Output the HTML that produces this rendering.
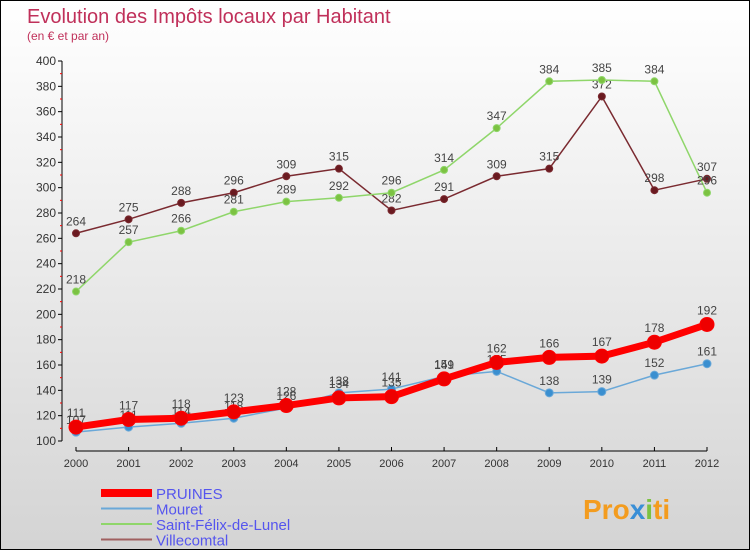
<!DOCTYPE html>
<html><head><meta charset="utf-8"><style>
body{margin:0}
#c{width:750px;height:550px;position:relative;background:linear-gradient(#ffffff,#d4d4d4);font-family:"Liberation Sans","DejaVu Sans",sans-serif;overflow:hidden;box-sizing:border-box;border:1px solid #000}
</style></head><body>
<div id="c">
<svg id="s" width="750" height="550" style="position:absolute;left:0;top:0">
<text x="26" y="22" font-size="20" fill="#c0305a">Evolution des Impôts locaux par Habitant</text>
<text x="26" y="39" font-size="12" fill="#c0305a">(en € et par an)</text>
<text x="582" y="518" font-size="28" font-weight="bold" fill="#f39c1f">Pro<tspan fill="#3a8fd6">x</tspan><tspan fill="#7cc242">i</tspan>ti</text>
</svg>
</div>
<script>
const years=["2000","2001","2002","2003","2004","2005","2006","2007","2008","2009","2010","2011","2012"];
const pruines=[111,117,118,123,128,134,135,149,162,166,167,178,192];
const mouret=[107,111,114,118,126,138,141,151,155,138,139,152,161];
const stfelix=[218,257,266,281,289,292,296,314,347,384,385,384,296];
const villecomtal=[264,275,288,296,309,315,282,291,309,315,372,298,307];
const yTicks=[100,120,140,160,180,200,220,240,260,280,300,320,340,360,380,400];
const NS="http://www.w3.org/2000/svg";
const s=document.getElementById('s');
const X=i=>75+i*(706-75)/12;
const Y=v=>440-(v-100)*(380/300);
function mk(t,a,p){const e=document.createElementNS(NS,t);for(const k in a)e.setAttribute(k,a[k]);(p||s).appendChild(e);return e;}
const ax=mk('g',{});


mk('line',{x1:61,y1:Y(400),x2:61,y2:Y(100),stroke:'#000'},ax);
mk('line',{x1:75,y1:450,x2:706,y2:450,stroke:'#000'},ax);
yTicks.forEach(v=>{mk('line',{x1:57,x2:61,y1:Y(v),y2:Y(v),stroke:'#000'},ax);
 if(v<400)mk('line',{x1:59,x2:61,y1:Y(v+10),y2:Y(v+10),stroke:'#f00'},ax);
 const t=mk('text',{x:55,y:Y(v)+4,'font-size':12,'text-anchor':'end',fill:'#333'},ax);t.textContent=v;});
years.forEach((y,i)=>{mk('line',{x1:X(i),x2:X(i),y1:446,y2:450,stroke:'#000'},ax);
 const t=mk('text',{x:X(i),y:466,'font-size':11,'text-anchor':'middle',fill:'#333'},ax);t.textContent=y;});
function series(name,data,color,w,r,dot,lblDy){
 const g=mk('g',{});
 
 
 mk('polyline',{points:data.map((v,i)=>X(i)+','+Y(v)).join(' '),fill:'none',stroke:color,'stroke-width':w},g);
 data.forEach((v,i)=>{const c=mk('circle',{cx:X(i),cy:Y(v),r:r,fill:dot,stroke:color,'stroke-width':1},g);
  
  
  const t=mk('text',{x:X(i),y:Y(v)-8+lblDy,'font-size':12,'text-anchor':'middle',fill:'#444'},g);t.textContent=v;});
}
series('villecomtal',villecomtal,'#7a2a30',1.5,3.5,'#6a1a20',0);
series('saint-felix',stfelix,'#8fd66a',1.5,3.5,'#7cc242',0);
series('mouret',mouret,'#6aa8d8',1.5,4,'#3a8fd0',0);
series('pruines',pruines,'#f00',7,7,'#e00',-2);
const lg=[['PRUINES','#f00',8],['Mouret','#6aa8d8',2],['Saint-Félix-de-Lunel','#8fd66a',2],['Villecomtal','#a06060',2]];
lg.forEach((l,i)=>{const g=mk('g',{});
 
 
 const yy=492+i*15.5;
 mk('line',{x1:100,x2:151,y1:yy,y2:yy,stroke:l[1],'stroke-width':l[2]},g);
 const t=mk('text',{x:155,y:yy+6,'font-size':15,fill:'#5555ee'},g);t.textContent=l[0];});
</script>
</body></html>
